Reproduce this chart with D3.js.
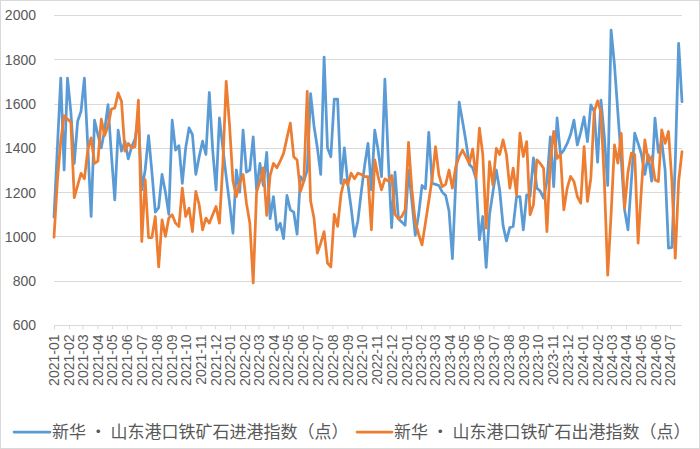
<!DOCTYPE html>
<html>
<head>
<meta charset="utf-8">
<script src="https://cdn.jsdelivr.net/npm/d3@7/dist/d3.min.js"></script>
<style>
  html, body { margin: 0; padding: 0; background: #fff; }
  svg { display: block; }
</style>
</head>
<body>
<svg id="chart" width="700" height="449"></svg>
<script>
// ---- Data (weekly, starting 2021-01-01) ----
const seriesNames = ["新华 • 山东港口铁矿石进港指数（点）", "新华 • 山东港口铁矿石出港指数（点）"];
const startDate = "2021-01-01";
const inboundIndex = [
  1088,1400,1715,1300,1715,1560,1330,1520,1565,1715,
  1410,1090,1525,1460,1400,1480,1595,1370,1165,1480,
  1385,1430,1350,1405,1440,1540,1210,1300,1455,1290,
  1110,1130,1280,1200,1100,1525,1390,1410,1240,1400,
  1490,1460,1280,1360,1430,1370,1650,1390,1210,1535,
  1400,1270,1150,1015,1300,1200,1480,1290,1300,1450,
  1210,1330,1230,1380,1080,1180,1030,1060,990,1185,
  1120,1110,1010,1270,1250,1300,1645,1500,1400,1280,
  1810,1400,1360,1620,1620,1240,1400,1240,1130,1000,
  1070,1200,1320,1420,1210,1480,1390,1270,1710,1350,
  1040,1290,1080,1065,1050,1300,1160,1005,1100,1230,
  1215,1470,1240,1235,1230,1200,1185,1115,900,1250,
  1606,1520,1430,1325,1310,1260,985,1090,860,1100,
  1200,1300,1210,1050,980,1040,1045,1180,1180,1030,
  1188,1180,1355,1218,1205,1173,1250,1450,1225,1535,
  1370,1390,1420,1460,1525,1413,1470,1540,1428,1594,
  1565,1335,1616,1450,1230,1932,1775,1560,1350,1120,
  1030,1250,1466,1420,1370,1280,1368,1250,1534,1380,
  1430,1300,947,950,1330,1872,1609
];
const outboundIndex = [
  997,1250,1430,1545,1530,1515,1175,1230,1285,1260,
  1390,1445,1330,1340,1530,1455,1500,1575,1580,1648,
  1610,1385,1420,1400,1405,1616,977,1256,995,995,
  1090,862,1075,1000,1083,1098,1060,1045,1218,1090,
  1128,1022,1203,1143,1030,1083,1060,1098,1135,1060,
  1323,1700,1500,1250,1180,1240,1280,1150,1060,790,
  1200,1250,1310,1095,1275,1330,1310,1340,1375,1445,
  1512,1360,1345,1203,1250,1655,1160,1083,925,970,
  1022,880,862,1100,1045,1190,1256,1233,1286,1260,
  1286,1280,1270,1270,1030,1346,1270,1210,1260,1250,
  1275,1100,1080,1090,1120,1425,1210,1065,1010,962,
  1060,1160,1260,1405,1278,1225,1235,1300,1218,1316,
  1360,1390,1360,1330,1395,1265,1489,1370,1037,1338,
  1233,1398,1370,1436,1370,1218,1308,1188,1466,1361,
  1428,1098,1143,1346,1330,1308,1022,1338,1474,1353,
  1370,1120,1218,1271,1248,1180,1150,1406,1158,1263,
  1564,1612,1560,1250,825,1100,1413,1331,1466,1128,
  1290,1376,1370,970,1220,1436,1338,1360,1255,1248,
  1481,1420,1474,1250,902,1248,1383
];
const monthLabels = [
  "2021-01","2021-02","2021-03","2021-04","2021-05","2021-06","2021-07","2021-08","2021-09","2021-10","2021-11","2021-12",
  "2022-01","2022-02","2022-03","2022-04","2022-05","2022-06","2022-07","2022-08","2022-09","2022-10","2022-11","2022-12",
  "2023-01","2023-02","2023-03","2023-04","2023-05","2023-06","2023-07","2023-08","2023-09","2023-10","2023-11","2023-12",
  "2024-01","2024-02","2024-03","2024-04","2024-05","2024-06","2024-07"
];
const yTicks = [600, 800, 1000, 1200, 1400, 1600, 1800, 2000];
const colors = ["#5B9BD5", "#ED7D31"];

// ---- Build ----
const svg = d3.select("#chart");
const W = 700, H = 449;
const plot = { left: 54, right: 682, top: 15, bottom: 325 };
const start = d3.utcParse("%Y-%m-%d")(startDate);
const dates = d3.range(inboundIndex.length).map(i => d3.utcDay.offset(start, 7 * i));
const monthDates = monthLabels.map(d3.utcParse("%Y-%m"));

const x = d3.scaleUtc().domain([dates[0], dates[dates.length - 1]]).range([plot.left, plot.right]);
const y = d3.scaleLinear().domain([600, 2000]).range([plot.bottom, plot.top]);

// outer border
svg.append("rect").attr("x", 0.5).attr("y", 0.5).attr("width", W - 1).attr("height", H - 1)
  .attr("fill", "#fff").attr("stroke", "#d9d9d9");

// gridlines
svg.append("g").selectAll("line").data(yTicks.filter(v => v > 600)).join("line")
  .attr("x1", plot.left).attr("x2", plot.right)
  .attr("y1", d => Math.round(y(d)) + 0.5).attr("y2", d => Math.round(y(d)) + 0.5)
  .attr("stroke", "#d9d9d9").attr("stroke-width", 1);

// y axis labels
const yAxis = d3.axisLeft(y).tickValues(yTicks).tickSize(0).tickPadding(0).tickFormat(d3.format("d"));
const gy = svg.append("g").attr("transform", `translate(${plot.left - 18},0)`).call(yAxis);
gy.select(".domain").remove();
gy.selectAll("text").attr("font-family", "'Liberation Sans', Arial, sans-serif")
  .attr("font-size", 14).attr("fill", "#595959").attr("dy", "0.35em");

// x axis
const xAxis = d3.axisBottom(x).tickValues(monthDates).tickSize(4).tickPadding(6)
  .tickFormat((d, i) => monthLabels[i]);
const gx = svg.append("g").attr("transform", `translate(0,${Math.round(plot.bottom) + 0.5})`).call(xAxis);
gx.select(".domain").attr("d", `M${plot.left},0H${plot.right}`).attr("stroke", "#d9d9d9");
gx.selectAll(".tick line").attr("stroke", "#d9d9d9");
gx.selectAll(".tick text")
  .attr("font-family", "'Liberation Sans', Arial, sans-serif")
  .attr("font-size", 14).attr("fill", "#595959")
  .attr("text-anchor", "end")
  .attr("transform", "rotate(-90)")
  .attr("x", -9).attr("y", 0).attr("dy", "0.35em");

// lines
const line = d3.line().x((d, i) => x(dates[i])).y(d => y(d));
[inboundIndex, outboundIndex].forEach((s, k) => {
  svg.append("path").datum(s).attr("d", line)
    .attr("fill", "none").attr("stroke", colors[k]).attr("stroke-width", 2.75)
    .attr("stroke-linejoin", "round").attr("stroke-linecap", "round");
});

// legend
const legend = [
  { x1: 14, x2: 50, tx: 52 },
  { x1: 357, x2: 392, tx: 394 }
];
legend.forEach((l, k) => {
  svg.append("line").attr("x1", l.x1).attr("x2", l.x2).attr("y1", 432).attr("y2", 432)
    .attr("stroke", colors[k]).attr("stroke-width", 2.75).attr("stroke-linecap", "round");
  svg.append("text").attr("x", l.tx).attr("y", 432).attr("dy", "0.35em")
    .attr("font-family", "'Noto Sans CJK SC', sans-serif").attr("font-size", 17)
    .attr("fill", "#595959").text(seriesNames[k]);
});
</script>
</body>
</html>
